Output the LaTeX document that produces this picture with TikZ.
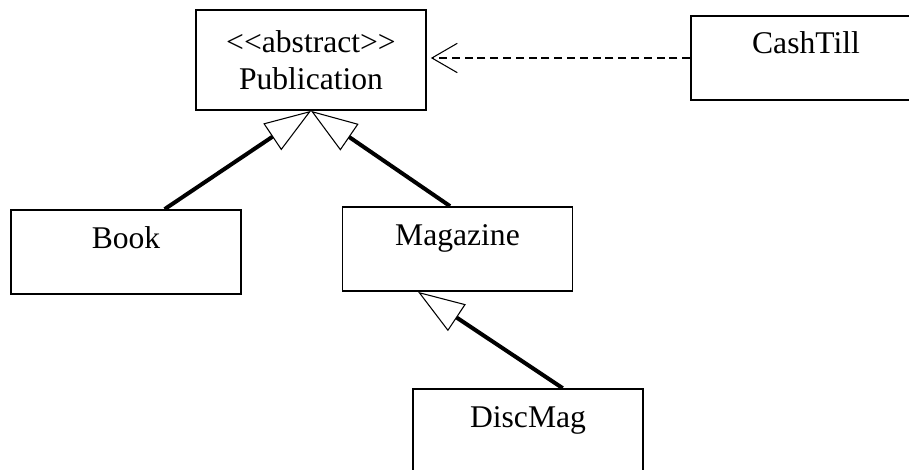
\documentclass[tikz,border=0pt]{standalone}
\usepackage{fontspec}
\setmainfont{Liberation Serif}
\usetikzlibrary{arrows.meta}

\begin{document}
\begin{tikzpicture}[
	x=0.75pt, y=-0.75pt,
	font=\fontsize{23.7}{27.75}\selectfont,
	classbox/.style={
		draw,
		line width=1.3pt,
		minimum width=172.5pt,
		inner xsep=0pt,
		align=center,
	},
	oneline/.style={
		inner ysep=0pt,
		text height=28.5pt,
		text depth=34.5pt,
	},
	inherit/.style={-{Triangle[open, line width=0.8pt, length=35pt, width=24pt]}, line width=3pt},
	depend/.style={-{Straight Barb[line width=0.8pt, length=19pt, width=22pt]}, line width=0.8pt, dash pattern=on 6pt off 3.6pt},
]

% --- Frame (boxes run past the right and bottom edge) ---
\useasboundingbox (0,0) rectangle (909,470);
\clip (0,0) rectangle (909,470);

% --- Classes ---
\node[classbox, minimum height=75pt] (pub) at (311,60) {<\kern0pt<abstract>\kern0pt>\\Publication};
\node[classbox, oneline] (cash) at (806,58)  {CashTill};
\node[classbox, oneline] (book) at (126,252)  {Book};
\node[classbox, oneline] (mag)  at (457.5,249) {Magazine};
\node[classbox, oneline] (disc) at (528,431)  {DiscMag};

% --- Generalisations ---
% 1. Book -> Publication
\draw[inherit] ([xshift=29pt]book.north) -- (pub.south);

% 2. Magazine -> Publication
\draw[inherit] ([xshift=-5.6pt]mag.north) -- (pub.south);

% 3. DiscMag -> Magazine
\draw[inherit] ([xshift=26pt]disc.north) -- ([xshift=-29.6pt]mag.south);

% --- Dependency ---
% 4. CashTill -> Publication
\draw[depend, shorten >=3pt] (cash.west) -- (cash.west -| pub.east);

\end{tikzpicture}
\end{document}
